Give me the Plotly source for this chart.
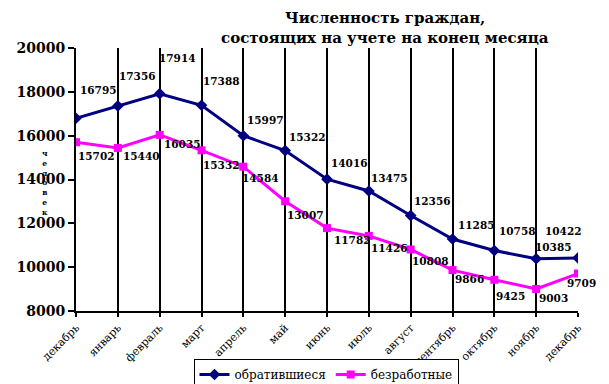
import plotly.graph_objects as go

# ---- data ----
months = ["декабрь", "январь", "февраль", "март", "апрель", "май", "июнь",
          "июль", "август", "сентябрь", "октябрь", "ноябрь", "декабрь"]
applied = [16795, 17356, 17914, 17388, 15997, 15322, 14016, 13475, 12356,
           11285, 10758, 10385, 10422]
unemployed = [15702, 15440, 16035, 15332, 14584, 13007, 11782, 11426, 10808,
              9866, 9425, 9003, 9709]
y_ticks = [8000, 10000, 12000, 14000, 16000, 18000, 20000]
series_names = ["обратившиеся", "безработные"]
title_lines = ["Численность граждан,", "состоящих на учете на конец месяца"]
y_title = "человек"

# ---- label placement (layout only) ----
blue_dx = [22, 20, 18, 20, 22, 22, 22, 21, 22, 24, 23, 17, -15]
blue_dy = [28, 30, 36, 24, 16, 14, 16, 13, 15, 14, 20, 12, 27]
pink_dx = [20, 24, 23, 20, 17, 20, 25, 21, 20, 17, 16, 17, 3]
pink_dy = [-14, -8, -9, -15, -11, -14, -12, -12, -12, -9, -16, -9, -9]

idx = list(range(len(months)))
BLUE = "#000080"
PINK = "#FF00FF"
SERIF = "DejaVu Serif"

# plot area in pixels
L, R, T, B = 76, 578, 48, 311
W, H = 609, 384


def px_x(x):
    return (x - L) / (R - L)


def px_y(y):
    return (B - y) / (B - T)


fig = go.Figure()
fig.add_trace(go.Scatter(
    x=idx, y=applied, name=series_names[0], mode="lines+markers",
    line=dict(color=BLUE, width=3),
    marker=dict(symbol="diamond", size=9, color=BLUE),
))
fig.add_trace(go.Scatter(
    x=idx, y=unemployed, name=series_names[1], mode="lines+markers",
    line=dict(color=PINK, width=3),
    marker=dict(symbol="square", size=8, color=PINK),
))

label_font = dict(family=SERIF, size=10.5, color="black", weight="bold")
annotations = []
for i, v in enumerate(applied):
    annotations.append(dict(x=i, y=v, text=str(v), showarrow=False,
                            xshift=blue_dx[i], yshift=blue_dy[i], font=label_font))
for i, v in enumerate(unemployed):
    annotations.append(dict(x=i, y=v, text=str(v), showarrow=False,
                            xshift=pink_dx[i], yshift=pink_dy[i], font=label_font))
# y-axis title (stacked letters)
annotations.append(dict(
    xref="paper", yref="paper", x=px_x(40), y=px_y(183),
    text="<br>".join(list(y_title)), showarrow=False,
    font=dict(family=SERIF, size=7.5, color="black", weight="bold"),
))
# title lines
for line, ypx in zip(title_lines, [18, 38]):
    annotations.append(dict(
        xref="paper", yref="paper", x=px_x(385), y=px_y(ypx),
        xanchor="center", yanchor="middle", text=line, showarrow=False,
        font=dict(family=SERIF, size=15, color="black", weight="bold"),
    ))

fig.update_layout(
    width=W, height=H,
    margin=dict(l=L, r=W - R, t=T, b=H - B, autoexpand=False),
    paper_bgcolor="white", plot_bgcolor="white",
    xaxis=dict(range=[0, 12], tickvals=idx, ticktext=months, tickangle=-45,
               showgrid=True, gridcolor="black", gridwidth=2, zeroline=False,
               showline=True, linecolor="black", linewidth=2,
               ticks="outside", ticklen=4, tickwidth=2, tickcolor="black",
               tickfont=dict(family=SERIF, size=11, color="black"),
               automargin=False),
    yaxis=dict(range=[8000, 20000], tickvals=y_ticks, tickformat="d",
               showgrid=False, zeroline=False,
               showline=True, linecolor="black", linewidth=2,
               ticks="outside", ticklen=6, tickwidth=2, tickcolor="black",
               tickfont=dict(family=SERIF, size=14, color="black", weight="bold"),
               automargin=False),
    legend=dict(orientation="h", xref="container", yref="container",
                x=326 / W, xanchor="center",
                y=1 - 359 / H, yanchor="top",
                bordercolor="black", borderwidth=1, bgcolor="white",
                font=dict(family=SERIF, size=12, color="black"),
                itemwidth=30, tracegroupgap=0),
    annotations=annotations,
    showlegend=True,
)

fig.write_html(
    "out.html",
    config={"displayModeBar": False},
    post_script="document.body.style.margin='0px';document.body.style.overflow='hidden';",
)
